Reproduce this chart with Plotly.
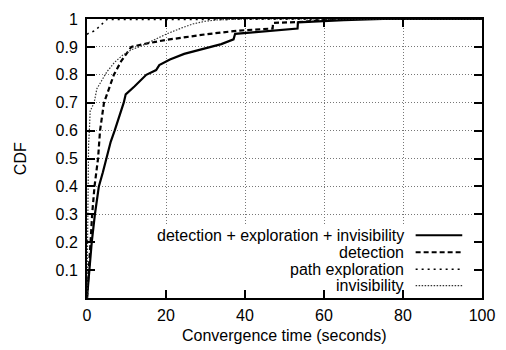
import plotly.graph_objects as go

# --- data ---
s_x = [0, 0.3, 0.75, 1.2, 2.0, 3.0, 4.0, 4.9, 6.0, 7.0, 8.2, 9.3, 9.8, 12, 15, 17.5, 18.3, 21, 24.6, 28, 31.3, 34, 37.1, 37.5, 42, 47, 53.3, 53.4, 58, 65, 75, 100]
s_y = [0, 0.05, 0.1, 0.2, 0.3, 0.4, 0.45, 0.5, 0.56, 0.6, 0.65, 0.7, 0.73, 0.758, 0.8, 0.817, 0.835, 0.855, 0.875, 0.888, 0.898, 0.91, 0.927, 0.947, 0.952, 0.958, 0.966, 0.988, 0.992, 0.996, 1.0, 1.0]

d_x = [0, 0.5, 0.9, 1.3, 1.9, 2.8, 3.3, 4.3, 5.5, 6.8, 8.7, 11.2, 15, 20, 25, 30, 38, 47, 47.1, 55, 62, 100]
d_y = [0, 0.1, 0.2, 0.3, 0.4, 0.5, 0.6, 0.7, 0.75, 0.8, 0.85, 0.9, 0.912, 0.925, 0.935, 0.945, 0.958, 0.966, 0.986, 0.99, 1.0, 1.0]

p_x = [0, 0.5, 2, 3.7, 5, 100]
p_y = [0.945, 0.95, 0.958, 0.979, 0.998, 1.0]

i_x = [0, 0.1, 0.2, 0.4, 0.6, 0.8, 1.8, 2.5, 5, 7, 9, 11.3, 14, 17, 20.4, 24, 27, 30, 33, 40, 100]
i_y = [0, 0.2, 0.4, 0.55, 0.6, 0.67, 0.70, 0.75, 0.81, 0.845, 0.87, 0.89, 0.905, 0.925, 0.948, 0.968, 0.983, 0.992, 0.997, 1.0, 1.0]

names = ["detection + exploration + invisibility", "detection", "path exploration", "invisibility"]
x_ticks = [0, 20, 40, 60, 80, 100]
y_ticks = [0.1, 0.2, 0.3, 0.4, 0.5, 0.6, 0.7, 0.8, 0.9, 1]
y_ticklabels = ["0.1", "0.2", "0.3", "0.4", "0.5", "0.6", "0.7", "0.8", "0.9", "1"]

styles = [
    dict(width=2.2, dash="solid", color="black"),
    dict(width=2.2, dash="5px,3px", color="black"),
    dict(width=1.5, dash="2px,4px", color="black"),
    dict(width=1.2, dash="1.5px,1.5px", color="#333333"),
]
series = [(s_x, s_y), (d_x, d_y), (p_x, p_y), (i_x, i_y)]

FONT = "Liberation Sans, Arial, sans-serif"
FS = 16

fig = go.Figure()
for (xs, ys), nm, st in zip(series, names, styles):
    fig.add_trace(go.Scatter(x=xs, y=ys, mode="lines", name=nm,
                             line=st, showlegend=False))

# opaque key background (hides grid behind the key)
fig.add_shape(type="rect", xref="x", yref="y", x0=0, x1=100, y0=0, y1=0.263,
              fillcolor="white", line=dict(width=0), layer="between")

# manual gnuplot-style key: text right-aligned, sample to the right
rows = [0.225, 0.164, 0.103, 0.044]
for nm, st, ry in zip(names, styles, rows):
    fig.add_annotation(x=0.807, y=ry, xref="paper", yref="paper", text=nm,
                       showarrow=False, xanchor="right", yanchor="middle",
                       font=dict(family=FONT, size=FS, color="black"))
    fig.add_shape(type="line", xref="paper", yref="paper", x0=0.832, x1=0.95,
                  y0=ry, y1=ry, line=st)

fig.add_annotation(x=0.5, y=-0.135, xref="paper", yref="paper",
                   text="Convergence time (seconds)", showarrow=False,
                   xanchor="center", yanchor="middle",
                   font=dict(family=FONT, size=FS, color="black"))
fig.add_annotation(x=-0.168, y=0.5, xref="paper", yref="paper", text="CDF",
                   showarrow=False, textangle=-90, xanchor="center", yanchor="middle",
                   font=dict(family=FONT, size=FS, color="black"))

axis_common = dict(showline=True, linecolor="black", linewidth=2, mirror="ticks",
                   ticks="inside", ticklen=8, tickcolor="black", tickwidth=1.5,
                   showgrid=True, gridcolor="#777777", griddash="1px,2px", gridwidth=1,
                   zeroline=False, tickfont=dict(family=FONT, size=FS, color="black"))

fig.update_xaxes(range=[0, 100], tickvals=x_ticks, ticklabelstandoff=2, **axis_common)
fig.update_yaxes(range=[0, 1], tickvals=y_ticks, ticktext=y_ticklabels,
                 ticklabelstandoff=4, **axis_common)

fig.update_layout(width=506, height=350, margin=dict(l=87, r=21, t=11, b=52),
                  plot_bgcolor="white", paper_bgcolor="white",
                  font=dict(family=FONT, size=FS, color="black"))

fig.write_html("out.html")
